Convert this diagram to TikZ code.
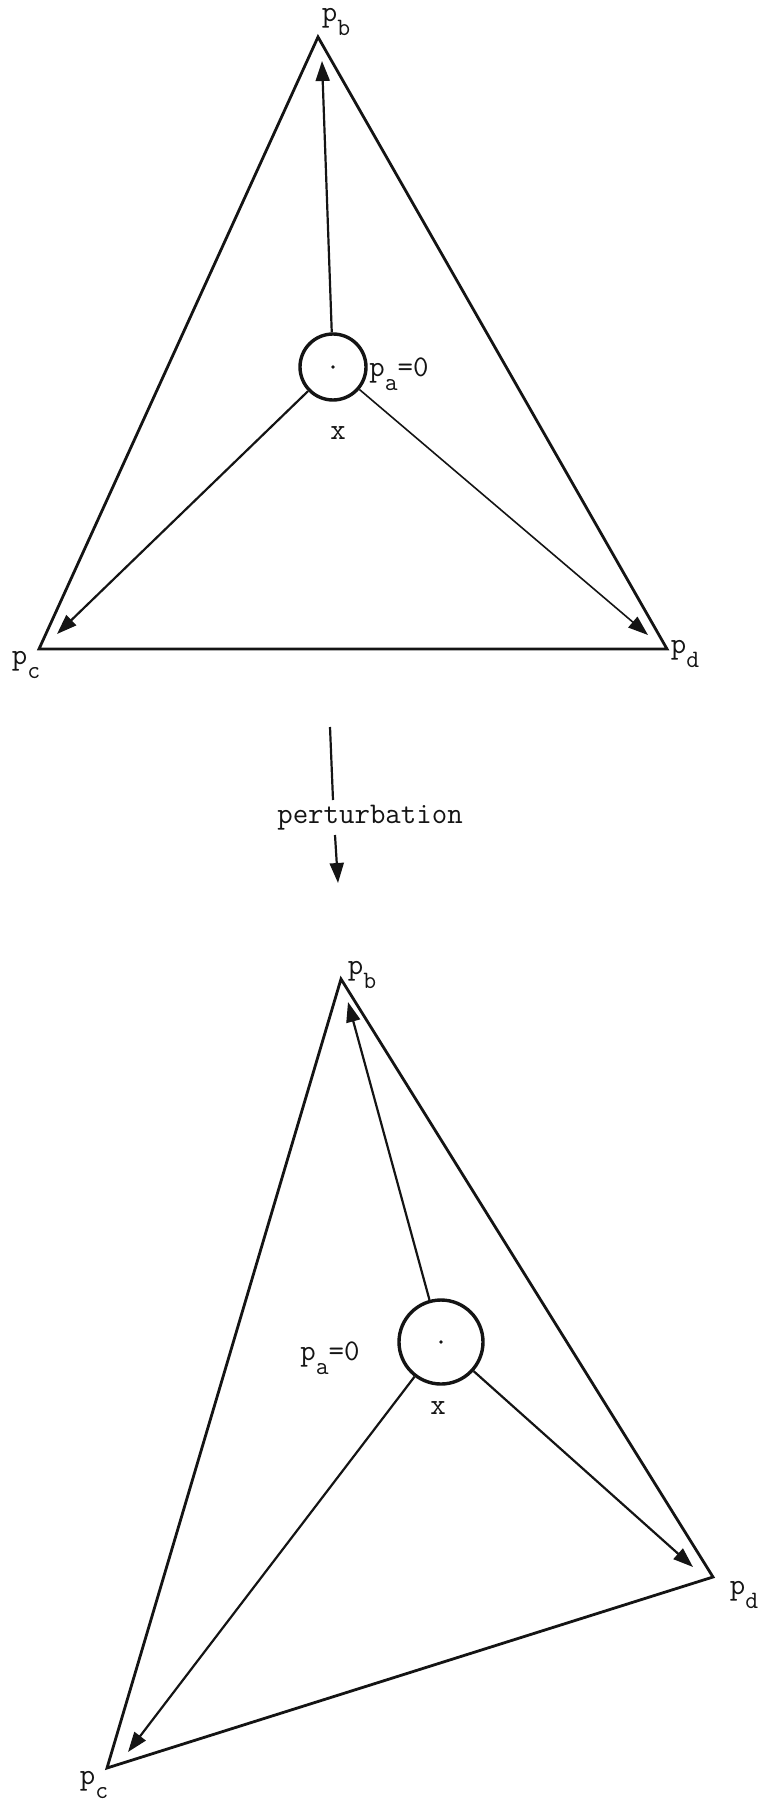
\documentclass[tikz,border=0pt]{standalone}
\usepackage{fontspec}
\usepackage{tikz}
\usetikzlibrary{arrows.meta,positioning}
\definecolor{ink}{HTML}{141414}
\newcommand{\sub}[1]{\raisebox{-7pt}{\fontsize{12.5}{14}\selectfont #1}}

\begin{document}
\begin{tikzpicture}[x=0.5pt,y=-0.5pt,font=\ttfamily\fontsize{15}{17}\selectfont,
  edge/.style={draw=ink,line width=1.4pt,line join=miter},
  hole/.style={circle,draw=ink,line width=1.7pt,inner sep=0pt},
  ray/.style={draw=ink,line width=1.1pt,-{Triangle[length=10pt,width=7pt]}},
  lbl/.style={inner sep=0pt,text=ink}]
  \useasboundingbox (0,0) rectangle (762,1802);
  % before the perturbation
  \coordinate (b1) at (318,37);
  \coordinate (c1) at (39,649);
  \coordinate (d1) at (667,649);
  \draw[edge] (b1) -- (c1) -- (d1) -- cycle;
  \node[hole,minimum size=33pt] (x1) at (333,367) {};
  \fill[ink] (x1) circle (0.9pt);
  \coordinate (tb1) at (322,61);
  \coordinate (tc1) at (57,634);
  \coordinate (td1) at (648,635);
  \draw[ray] (x1) -- (tb1);
  \draw[ray] (x1) -- (tc1);
  \draw[ray,line width=0.8pt] (x1) -- (td1);
  \node[lbl] (lb1) at (336,22) {p\sub{b}};
  \node[lbl] (lc1) at (26,665) {p\sub{c}};
  \node[lbl] (ld1) at (685,654) {p\sub{d}};
  \node[lbl] (la1) at (399,374) {p\sub{a}=0};
  \node[lbl] (lx1) at (338,433) {x};
  % perturbation
  \node[lbl,inner sep=3pt] (pert) at (370,818) {perturbation};
  \coordinate (ps) at (330,727);
  \coordinate (pe) at (338,883);
  \draw[ink,line width=1.1pt] (ps) -- (333,800);
  \draw[ray] (335,835) -- (pe);
  % after the perturbation
  \coordinate (b2) at (341,979);
  \coordinate (c2) at (107,1768);
  \coordinate (d2) at (713,1577);
  \draw[edge] (b2) -- (c2) -- (d2) -- cycle;
  \node[hole,minimum size=42pt] (x2) at (441,1342) {};
  \fill[ink] (x2) circle (0.9pt);
  \coordinate (tb2) at (348,1002);
  \coordinate (tc2) at (128,1752);
  \coordinate (td2) at (693,1567);
  \draw[ray] (x2) -- (tb2);
  \draw[ray] (x2) -- (tc2);
  \draw[ray] (x2) -- (td2);
  \node[lbl] (lb2) at (362,975) {p\sub{b}};
  \node[lbl] (lc2) at (94,1785) {p\sub{c}};
  \node[lbl] (ld2) at (744,1595) {p\sub{d}};
  \node[lbl] (la2) at (330,1358) {p\sub{a}=0};
  \node[lbl] (lx2) at (438,1408) {x};
\end{tikzpicture}
\end{document}
